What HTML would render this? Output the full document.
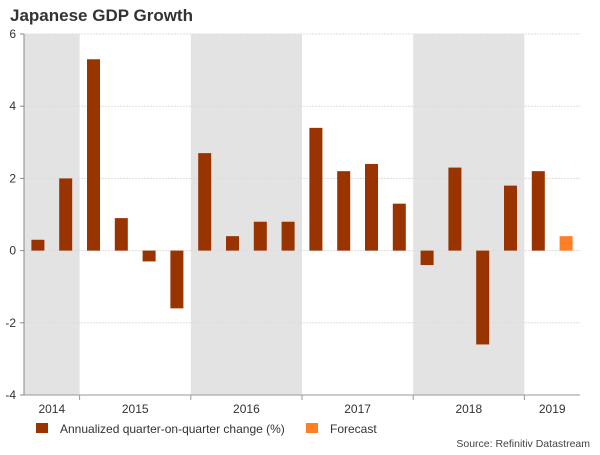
<!DOCTYPE html>
<html><head><meta charset="utf-8"><style>
body{margin:0;background:#fff;font-family:"Liberation Sans",Arial,sans-serif;}
</style></head><body>
<svg id="chart" width="600" height="450" xmlns="http://www.w3.org/2000/svg">
<text x="10" y="21" font-size="17" font-weight="bold" fill="#333">Japanese GDP Growth</text>
<g id="shade"></g><g id="grid"></g><g id="bars"></g><g id="axes"></g>
<g>
<rect x="36" y="423" width="12" height="10" fill="#993300"/>
<text x="60" y="433" font-size="12" fill="#333">Annualized quarter-on-quarter change (%)</text>
<rect x="306" y="423" width="12" height="10" fill="#ff7f27"/>
<text x="330" y="433" font-size="12" fill="#333">Forecast</text>
</g>
<text x="590" y="447" font-size="10.5" fill="#444" text-anchor="end">Source: Refinitiv Datastream</text>
</svg>
<script>
const years=["2014","2015","2016","2017","2018","2019"];
const yearQuarters=[2,4,4,4,4,2];
const values=[0.3,2.0,5.3,0.9,-0.3,-1.6,2.7,0.4,0.8,0.8,3.4,2.2,2.4,1.3,-0.4,2.3,-2.6,1.8,2.2,0.4];
const isForecast=[0,0,0,0,0,0,0,0,0,0,0,0,0,0,0,0,0,0,0,1];
const yTicks=[-4,-2,0,2,4,6];
const NS="http://www.w3.org/2000/svg";
const x0=24,x1=580,yTop=34,yBot=395,yMin=-4,yMax=6;
const slot=(x1-x0)/values.length;
const X=i=>x0+i*slot;
const Y=v=>yBot-(v-yMin)/(yMax-yMin)*(yBot-yTop);
function mk(tag,attrs,parent){const e=document.createElementNS(NS,tag);for(const k in attrs)e.setAttribute(k,attrs[k]);document.getElementById(parent).appendChild(e);return e;}
let start=0;
years.forEach((yr,k)=>{
  const n=yearQuarters[k];
  if(k%2===0){const r=mk('rect',{x:X(start),y:yTop,width:n*slot,height:yBot-yTop,fill:'#e3e3e3'},'shade');
    
    }
  const t=mk('text',{x:X(start+n/2),y:413,'font-size':12,fill:'#333','text-anchor':'middle'},'axes');t.textContent=yr;
  
  
  if(k>0){const l=mk('line',{x1:X(start),x2:X(start),y1:yBot,y2:yBot+5,stroke:'#999'},'axes');
    
    }
  start+=n;
});
yTicks.forEach(v=>{
  const g=mk('line',{x1:x0,x2:x1,y1:Y(v),y2:Y(v),stroke:'#ddd','stroke-dasharray':'2,1'},'grid');
  
  
  const tk=mk('line',{x1:x0-4,x2:x0,y1:Y(v),y2:Y(v),stroke:'#888'},'axes');
  
  
  const t=mk('text',{x:x0-8,y:Y(v)+4,'font-size':12,fill:'#333','text-anchor':'end'},'axes');t.textContent=v;
  
  
});
const ya=mk('line',{x1:x0,x2:x0,y1:yTop,y2:yBot,stroke:'#888'},'axes');


const xa=mk('line',{x1:x0,x2:x1,y1:yBot,y2:yBot,stroke:'#999'},'axes');


const bw=13;
values.forEach((v,i)=>{
  const cx=X(i+0.5);
  const b=mk('rect',{x:cx-bw/2,y:Math.min(Y(v),Y(0)),width:bw,height:Math.abs(Y(v)-Y(0)),fill:isForecast[i]?'#ff7f27':'#993300'},'bars');
  
  
});
</script>
</body></html>
